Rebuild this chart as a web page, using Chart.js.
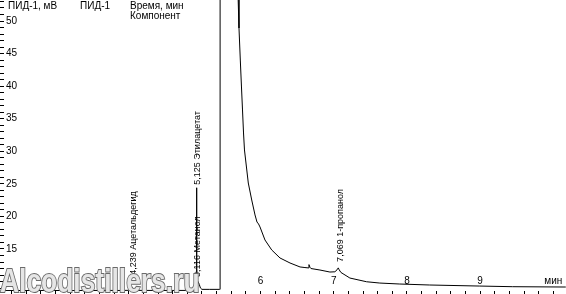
<!DOCTYPE html>
<html>
<head>
<meta charset="utf-8">
<script src="https://cdn.jsdelivr.net/npm/chart.js"></script>
<style>
  body { margin: 0; background: #fff; }
  #wrap { position: relative; width: 566px; height: 294px; overflow: hidden; }
  .hdr { position: absolute; font: 10px "Liberation Sans", Arial, sans-serif; line-height: 12px; color: #000; white-space: nowrap; }
  #mark {
    position: absolute; left: 0; top: 264px;
    font: bold 33px "Liberation Sans", Arial, sans-serif; line-height: 33px;
    color: #e6e6e6; -webkit-text-stroke: 2px #6a6a6a; paint-order: stroke fill;
    transform: scaleX(0.8); transform-origin: left top; white-space: nowrap;
  }
</style>
</head>
<body>
<div id="wrap">
  <canvas id="chart" width="566" height="294"></canvas>
  <div class="hdr" style="left:8px;top:0px">ПИД-1, мВ</div>
  <div class="hdr" style="left:80px;top:0px">ПИД-1</div>
  <div class="hdr" style="left:130px;top:0px">Время, мин</div>
  <div class="hdr" style="left:130px;top:10px">Компонент</div>
  <div id="mark">Alcodistillers.ru</div>
</div>
<script>
// время, мин
const times = [
  2.50, 3.00, 3.50, 3.90, 4.10, 4.20, 4.225, 4.239, 4.255, 4.28,
  4.60, 5.00, 5.08, 5.105, 5.116, 5.119, 5.125, 5.131, 5.14, 5.155,
  5.165, 5.18, 5.20, 5.30, 5.44, 5.447, 5.448,
  5.695, 5.706, 5.724, 5.740, 5.754, 5.768, 5.781, 5.833, 5.880, 5.925,
  5.952, 5.973, 5.993, 6.061, 6.153, 6.266, 6.403, 6.540, 6.607, 6.650,
  6.662, 6.675, 6.689, 6.812, 6.948, 7.016, 7.045, 7.062, 7.075, 7.098,
  7.221, 7.449, 7.630, 7.903, 8.312, 8.995, 9.445, 10.17
];
// сигнал ПИД-1, мВ
const signal = [
  8.62, 8.63, 8.62, 8.64, 8.63, 8.66, 9.0, 9.2, 8.9, 8.65,
  8.63, 8.64, 8.66, 9.4, 10.1, 11.5, 24.4, 12.0, 10.1, 9.8,
  9.5, 9.0, 8.8, 8.8, 8.8, 8.8, 420,
  53.22, 48.92, 44.01, 39.87, 36.34, 32.81, 30.2, 25.13, 22.52, 20.22,
  19.14, 18.84, 18.38, 16.38, 14.85, 13.62, 12.85, 12.24, 12.15, 12.1,
  12.6, 12.2, 12.0, 11.77, 11.46, 11.5, 11.8, 12.1, 11.8, 11.4,
  10.54, 9.97, 9.77, 9.62, 9.47, 9.31, 9.21, 9.16
];

const peakTimes = [4.239, 5.116, 5.125, 7.069];
const peakNames = ["Ацетальдегид", "Метанол", "Этилацетат", "1-пропанол"];
const peakHeights = [9.2, 10.1, 24.4, 12.1];

const xLabels = [6, 7, 8, 9];
const yLabels = [15, 20, 25, 30, 35, 40, 45, 50];

const labelGaps = [12, 4, 3, 6];

const peakLabels = {
  id: "peakLabels",
  afterDatasetsDraw(chart) {
    const ctx = chart.ctx;
    const sx = chart.scales.x;
    const sy = chart.scales.y;
    ctx.save();
    ctx.font = '9px "Liberation Sans", Arial, sans-serif';
    ctx.fillStyle = "#000";
    ctx.textAlign = "left";
    ctx.textBaseline = "middle";
    peakTimes.forEach((t, i) => {
      const x = sx.getPixelForValue(t) + 1.5;
      const y = sy.getPixelForValue(peakHeights[i]) - labelGaps[i];
      const txt = t.toFixed(3).replace(".", ",") + " " + peakNames[i];
      ctx.save();
      ctx.translate(x, y);
      ctx.rotate(-Math.PI / 2);
      ctx.fillText(txt, 0, 0);
      ctx.restore();
    });
    ctx.restore();
  },
};

const tickFont = { family: '"Liberation Sans", Arial, sans-serif', size: 10 };

new Chart(document.getElementById("chart"), {
  type: "line",
  data: {
    datasets: [
      {
        data: times.map((t, i) => ({ x: t, y: signal[i] })),
        borderColor: "#000",
        borderWidth: 1,
        pointRadius: 0,
        tension: 0,
        fill: false,
      },
    ],
  },
  options: {
    animation: false,
    responsive: false,
    devicePixelRatio: 1,
    layout: { padding: 0 },
    plugins: { legend: { display: false }, tooltip: { enabled: false } },
    scales: {
      x: {
        type: "linear",
        min: 2.496,
        max: 10.173,
        border: { display: false },
        grid: { drawOnChartArea: false, tickLength: 3, tickColor: "#000" },
        afterBuildTicks: (s) => {
          const list = [];
          for (let i = 13; i <= 50; i++) list.push({ value: i / 5 });
          s.ticks = list;
        },
        afterFit: (s) => {
          s.height = 3;
          s.paddingLeft = 0;
          s.paddingRight = 0;
        },
        ticks: {
          mirror: true,
          padding: 4,
          maxRotation: 0,
          autoSkip: false,
          color: "#000",
          font: tickFont,
          callback: (v) => {
            if (Math.abs(v - 10) < 1e-6) return "мин";
            return xLabels.some((l) => Math.abs(l - v) < 1e-6) ? String(Math.round(v)) : "";
          },
        },
      },
      y: {
        min: 8.55,
        max: 53.224,
        border: { display: false },
        grid: { drawOnChartArea: false, tickLength: 4, tickColor: "#000" },
        afterBuildTicks: (s) => {
          const list = [];
          for (let v = 9; v <= 53; v++) list.push({ value: v });
          s.ticks = list;
        },
        afterFit: (s) => {
          s.width = 4;
          s.paddingTop = 0;
          s.paddingBottom = 0;
        },
        ticks: {
          mirror: true,
          padding: 2,
          autoSkip: false,
          color: "#000",
          font: tickFont,
          callback: (v) => (yLabels.includes(v) ? String(v) : ""),
        },
      },
    },
  },
  plugins: [peakLabels],
});
</script>
</body>
</html>
